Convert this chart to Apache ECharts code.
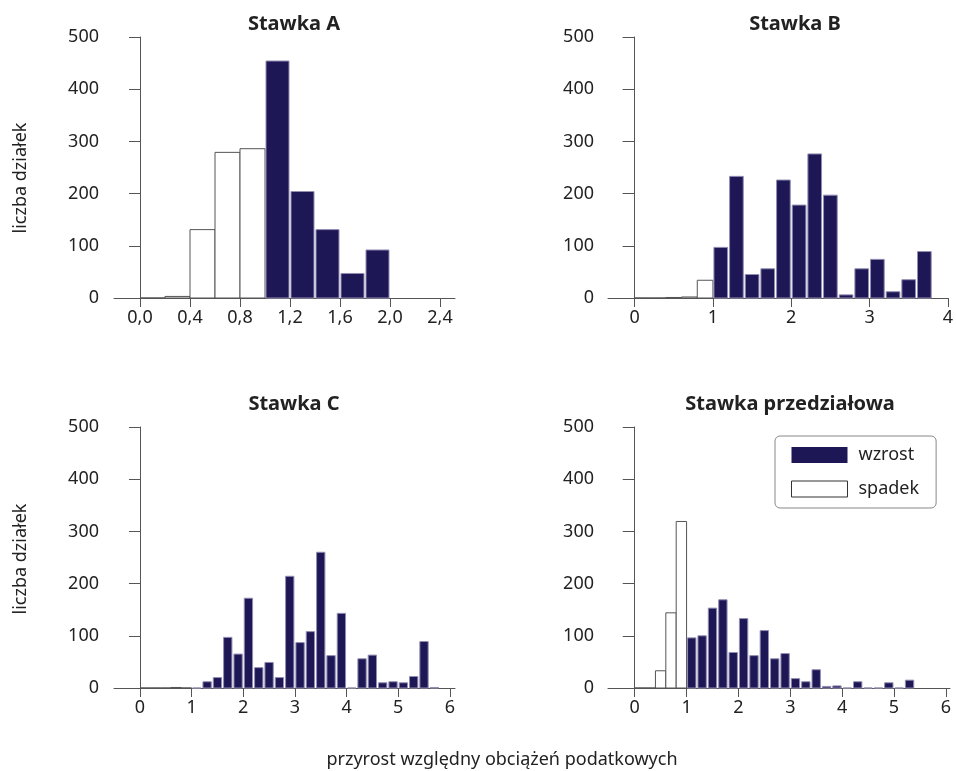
<!DOCTYPE html>
<html>
<head>
<meta charset="utf-8">
<script src="https://cdn.jsdelivr.net/npm/echarts@6/dist/echarts.min.js"></script>
<style>
  html, body { margin: 0; padding: 0; background: #fff; }
  #chart { width: 956px; height: 771px; }
</style>
</head>
<body>
<div id="chart"></div>
<script>
// bin edges (start of each 0.2-wide bin) and counts
var binsA = [0.0, 0.2, 0.4, 0.6, 0.8, 1.0, 1.2, 1.4, 1.6, 1.8];
var countsA = [0, 3, 131, 279, 286, 454, 204, 131, 47, 92];

var binsB = [0.0, 0.2, 0.4, 0.6, 0.8, 1.0, 1.2, 1.4, 1.6, 1.8, 2.0, 2.2, 2.4, 2.6, 2.8, 3.0, 3.2, 3.4, 3.6];
var countsB = [0, 0, 1, 2, 34, 97, 233, 45, 56, 226, 178, 276, 197, 6, 56, 74, 12, 35, 89];

var binsC = [0.0, 0.2, 0.4, 0.6, 0.8, 1.0, 1.2, 1.4, 1.6, 1.8, 2.0, 2.2, 2.4, 2.6, 2.8, 3.0, 3.2, 3.4, 3.6, 3.8, 4.0, 4.2, 4.4, 4.6, 4.8, 5.0, 5.2, 5.4, 5.6];
var countsC = [0, 0, 0, 1, 0, 0, 12, 20, 97, 65, 172, 39, 49, 20, 214, 87, 108, 260, 62, 143, 0, 56, 63, 10, 12, 10, 22, 89, 1];

var binsD = [0.0, 0.2, 0.4, 0.6, 0.8, 1.0, 1.2, 1.4, 1.6, 1.8, 2.0, 2.2, 2.4, 2.6, 2.8, 3.0, 3.2, 3.4, 3.6, 3.8, 4.0, 4.2, 4.4, 4.6, 4.8, 5.0, 5.2];
var countsD = [0, 0, 33, 144, 319, 96, 100, 153, 169, 68, 133, 62, 110, 56, 66, 18, 12, 35, 3, 4, 0, 12, 0, 0, 10, 0, 15];

var binWidth = 0.2;

var ticksA = [0.0, 0.4, 0.8, 1.2, 1.6, 2.0, 2.4];
var ticksB = [0, 1, 2, 3, 4];
var ticksCD = [0, 1, 2, 3, 4, 5, 6];

var titles = ['Stawka A', 'Stawka B', 'Stawka C', 'Stawka przedziałowa'];
var yName = 'liczba działek';
var xName = 'przyrost względny obciążeń podatkowych';
var legendNames = ['wzrost', 'spadek'];

var FONT = 'Noto Sans';
var NAVY = '#1d1756';
var NAVY_EDGE = '#928db2';
var AXIS = '#555555';
var TEXT = '#222222';

// split bins into "wzrost" (bin starts at >= 1) and "spadek"
function split(bins, counts) {
  var up = [], down = [];
  for (var i = 0; i < bins.length; i++) {
    var row = [bins[i], bins[i] + binWidth, counts[i]];
    if (bins[i] >= 1 - 1e-9) up.push(row); else down.push(row);
  }
  return { up: up, down: down };
}

function barRenderer(inset, fill, stroke) {
  return function (params, api) {
    var p0 = api.coord([api.value(0), api.value(2)]);
    var p1 = api.coord([api.value(1), 0]);
    return {
      type: 'rect',
      shape: { x: p0[0] + inset, y: p0[1], width: p1[0] - p0[0] - 2 * inset, height: p1[1] - p0[1] },
      style: { fill: fill, stroke: stroke, lineWidth: 1 }
    };
  };
}

var panels = [
  { bins: binsA, counts: countsA, ticks: ticksA, min: -0.208, max: 2.52, left: 114, top: 37, width: 341, off: -11, dec: true },
  { bins: binsB, counts: countsB, ticks: ticksB, min: -0.34, max: 4.0, left: 608, top: 37, width: 342, off: -12, dec: false },
  { bins: binsC, counts: countsC, ticks: ticksCD, min: -0.503, max: 6.10, left: 114, top: 427, width: 341, off: -11, dec: false },
  { bins: binsD, counts: countsD, ticks: ticksCD, min: -0.515, max: 6.08, left: 608, top: 427, width: 342, off: -12, dec: false }
];

var grids = [], xAxes = [], yAxes = [], series = [];
panels.forEach(function (p, i) {
  grids.push({ left: p.left, top: p.top, width: p.width, height: 261 });
  xAxes.push({
    type: 'value', gridIndex: i, min: p.min, max: p.max,
    axisLine: { show: true, onZero: false, lineStyle: { color: AXIS, width: 1 } },
    axisTick: { show: true, length: 9, customValues: p.ticks, lineStyle: { color: AXIS } },
    axisLabel: {
      customValues: p.ticks, margin: 11, color: TEXT, fontFamily: FONT, fontSize: 18,
      formatter: function (v) { return p.dec ? v.toFixed(1).replace('.', ',') : String(v); }
    },
    splitLine: { show: false }
  });
  yAxes.push({
    type: 'value', gridIndex: i, min: 0, max: 500, interval: 100, offset: p.off,
    axisLine: { show: true, lineStyle: { color: AXIS, width: 1 } },
    axisTick: { show: true, length: -p.off, lineStyle: { color: AXIS } },
    axisLabel: { margin: 26, color: TEXT, fontFamily: FONT, fontSize: 18 },
    splitLine: { show: false }
  });
  var s = split(p.bins, p.counts);
  series.push({
    name: 'spadek', type: 'custom', xAxisIndex: i, yAxisIndex: i,
    itemStyle: { color: '#ffffff', borderColor: '#444444', borderWidth: 1 },
    renderItem: barRenderer(0, '#ffffff', '#555555'),
    encode: { x: [0, 1], y: 2 },
    data: s.down
  });
  series.push({
    name: 'wzrost', type: 'custom', xAxisIndex: i, yAxisIndex: i,
    itemStyle: { color: NAVY },
    renderItem: barRenderer(1, NAVY, NAVY_EDGE),
    encode: { x: [0, 1], y: 2 },
    data: s.up
  });
});

var graphics = [
  { x: 294, y: 24, text: titles[0] },
  { x: 795, y: 24, text: titles[1] },
  { x: 294, y: 404, text: titles[2] },
  { x: 790, y: 404, text: titles[3] }
].map(function (t) {
  return {
    type: 'text', x: t.x, y: t.y,
    style: { text: t.text, fill: TEXT, font: 'bold 20px "' + FONT + '"', textAlign: 'center', textVerticalAlign: 'middle' }
  };
});
[178, 559].forEach(function (cy) {
  graphics.push({
    type: 'text', x: 21, y: cy, rotation: Math.PI / 2,
    style: { text: yName, fill: TEXT, font: '18px "' + FONT + '"', textAlign: 'center', textVerticalAlign: 'middle' }
  });
});
graphics.push({
  type: 'text', x: 502, y: 760,
  style: { text: xName, fill: TEXT, font: '18px "' + FONT + '"', textAlign: 'center', textVerticalAlign: 'middle' }
});

var chart = echarts.init(document.getElementById('chart'), null, { renderer: 'canvas' });
chart.setOption({
  animation: false,
  backgroundColor: '#ffffff',
  textStyle: { fontFamily: FONT },
  grid: grids,
  xAxis: xAxes,
  yAxis: yAxes,
  legend: {
    orient: 'vertical', left: 775, top: 436,
    padding: [10, 17, 10, 16], itemGap: 16, itemWidth: 56, itemHeight: 16,
    backgroundColor: '#ffffff', borderColor: '#888888', borderWidth: 1, borderRadius: 5,
    icon: 'rect', selectedMode: false,
    textStyle: { color: TEXT, fontFamily: FONT, fontSize: 18, padding: [0, 0, 0, 6] },
    data: [
      { name: legendNames[0], itemStyle: { color: NAVY, borderWidth: 0 } },
      { name: legendNames[1], itemStyle: { color: '#ffffff', borderColor: '#333333', borderWidth: 1 } }
    ]
  },
  graphic: graphics,
  series: series
});
</script>
</body>
</html>
